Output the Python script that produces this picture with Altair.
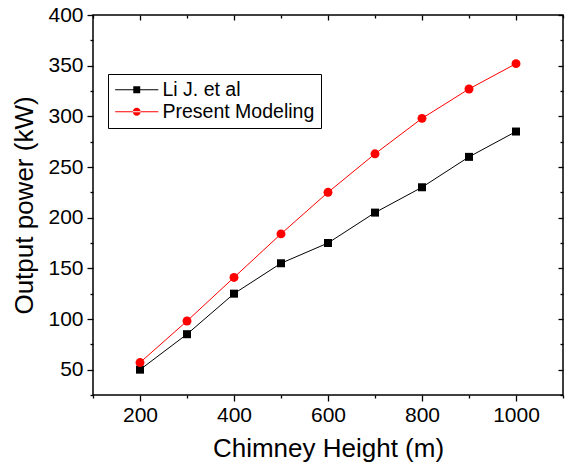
import altair as alt
import pandas as pd

# ---- data ----
heights = [200, 300, 400, 500, 600, 700, 800, 900, 1000]
li_values = [50, 85, 125, 155, 175, 205, 230, 260, 285]
present_values = [57, 98, 141, 184, 225, 263, 298, 327, 352]
series_names = ["Li J. et al", "Present Modeling"]
series_colors = ["#000000", "#ff0000"]

x_domain = [100, 1100]
y_domain = [25, 400]
x_major = [200, 400, 600, 800, 1000]
x_minor = [100, 300, 500, 700, 900, 1100]
y_major = [50, 100, 150, 200, 250, 300, 350, 400]
y_minor = [25, 75, 125, 175, 225, 275, 325, 375]

x_title = "Chimney Height (m)"
y_title = "Output power (kW)"

# legend glyphs: a line segment with the marker on it (custom SVG paths, filled)
legend_shapes = [
    "M-3.6,-0.09L3.6,-0.09L3.6,0.09L-3.6,0.09Z"
    "M-0.58,-0.58L0.58,-0.58L0.58,0.58L-0.58,0.58Z",
    "M-3.6,-0.09L3.6,-0.09L3.6,0.09L-3.6,0.09Z"
    "M-0.66,0A0.66,0.66,0,1,0,0.66,0A0.66,0.66,0,1,0,-0.66,0Z",
]

df = pd.DataFrame({
    "height": heights + heights,
    "power": li_values + present_values,
    "series": [series_names[0]] * len(heights) + [series_names[1]] * len(heights),
})

FONT = "Liberation Sans"
W, H = 470, 380

x_scale = alt.Scale(domain=x_domain, nice=False, zero=False)
y_scale = alt.Scale(domain=y_domain, nice=False, zero=False)

common_axis = dict(grid=False, domain=False, tickColor="black", tickWidth=1.3)


def axis(orient, values, size, offset=0, labels=False, title=None, **kw):
    args = dict(common_axis)
    args.update(orient=orient, values=values, tickSize=size, labels=labels, title=title)
    if offset:
        args["offset"] = offset
    args.update(kw)
    return alt.Axis(**args)


label_style = dict(labelFont=FONT, labelFontSize=21, labelColor="black", format="d")
title_style = dict(titleFont=FONT, titleFontSize=26, titleFontWeight="normal", titleColor="black")

ax_x_major = axis("bottom", x_major, 6, labels=True, title=x_title, labelPadding=3,
                  titlePadding=10, **label_style, **title_style)
ax_x_minor = axis("bottom", x_minor, 3)
ax_x_top_major = axis("bottom", x_major, 5, offset=-H)
ax_x_top_minor = axis("bottom", x_minor, 3, offset=-H)

ax_y_major = axis("left", y_major, 6, labels=True, title=y_title, labelPadding=4,
                  titlePadding=10, **label_style, **title_style)
ax_y_minor = axis("left", y_minor, 3)
ax_y_right_major = axis("left", y_major, 5, offset=-W)
ax_y_right_minor = axis("left", y_minor, 3, offset=-W)

base = alt.Chart(df)


def enc(xa, ya):
    return dict(
        x=alt.X("height:Q", scale=x_scale, axis=xa),
        y=alt.Y("power:Q", scale=y_scale, axis=ya),
    )


li = base.transform_filter(alt.datum.series == series_names[0])
pm = base.transform_filter(alt.datum.series == series_names[1])

li_line = li.mark_line(color=series_colors[0], strokeWidth=1).encode(**enc(ax_x_major, ax_y_major))
li_pts = li.mark_point(shape="square", filled=True, color=series_colors[0], size=64, opacity=1).encode(
    **enc(ax_x_minor, ax_y_minor))
pm_line = pm.mark_line(color=series_colors[1], strokeWidth=1).encode(**enc(ax_x_top_major, ax_y_right_major))
pm_pts = pm.mark_point(shape="circle", filled=True, color=series_colors[1], size=80, opacity=1).encode(
    **enc(ax_x_top_minor, ax_y_right_minor))

legend_def = alt.Legend(title=None, orient="none", legendX=15, legendY=59, symbolOpacity=1)

legend_layer = base.mark_point(filled=True, opacity=0).encode(
    x=alt.X("height:Q", scale=x_scale, axis=None),
    y=alt.Y("power:Q", scale=y_scale, axis=None),
    color=alt.Color("series:N", scale=alt.Scale(domain=series_names, range=series_colors),
                    legend=legend_def),
    shape=alt.Shape("series:N", scale=alt.Scale(domain=series_names, range=legend_shapes),
                    legend=legend_def),
)

chart = alt.layer(li_line, li_pts, pm_line, pm_pts, legend_layer).resolve_axis(
    x="independent", y="independent"
).properties(
    width=W, height=H,
    padding={"left": 93, "top": 15, "right": 5, "bottom": 74},
    autosize=alt.AutoSizeParams(type="none"),
).configure_view(
    stroke="black", strokeWidth=1.5
).configure_legend(
    strokeColor="black", strokeWidth=1, fillColor="white", padding=6,
    labelFont=FONT, labelFontSize=19.5, labelColor="black", labelLimit=400,
    symbolSize=144, symbolStrokeWidth=0, symbolOffset=13, labelOffset=16,
    rowPadding=1, cornerRadius=0,
)

chart.save("out.html", embed_options={"renderer": "svg", "actions": False})
